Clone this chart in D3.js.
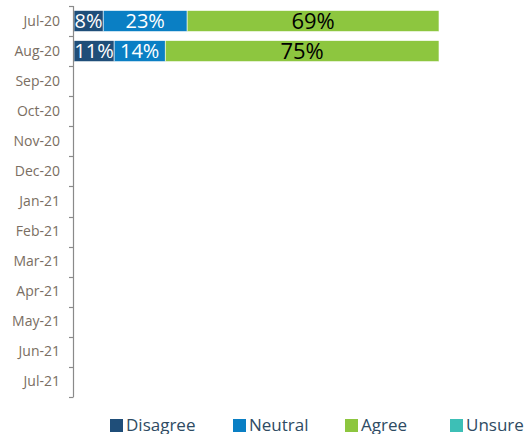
<!DOCTYPE html>
<html><head><meta charset="utf-8">
<script src="https://cdn.jsdelivr.net/npm/d3@7"></script>
<style>body{margin:0;background:#fff}svg{display:block}</style>
</head><body>
<script>
const categories = ["Jul-20","Aug-20","Sep-20","Oct-20","Nov-20","Dec-20","Jan-21","Feb-21","Mar-21","Apr-21","May-21","Jun-21","Jul-21"];
const seriesNames = ["Disagree","Neutral","Agree","Unsure"];
const disagree = [8, 11, null, null, null, null, null, null, null, null, null, null, null];
const neutral  = [23, 14, null, null, null, null, null, null, null, null, null, null, null];
const agree    = [69, 75, null, null, null, null, null, null, null, null, null, null, null];
const unsure   = [0, 0, null, null, null, null, null, null, null, null, null, null, null];
const colors = ["#1F4E79","#0A7FC4","#8DC63F","#3DBFB6"];

const W = 524, H = 434;
const svg = d3.select("body").append("svg").attr("width", W).attr("height", H);

const y = d3.scaleBand().domain(categories).range([6, 397]).paddingInner(0.3).paddingOuter(0.15);
const x = d3.scaleLinear().domain([0, 100]).range([74, 439]);

const rows = categories.map((c, i) => ({cat: c, vals: [disagree[i], neutral[i], agree[i], unsure[i]]}));

rows.forEach(r => {
  let acc = 0;
  r.vals.forEach((v, k) => {
    if (v == null || v === 0) return;
    const x0 = x(acc), x1 = x(acc + v);
    svg.append("rect").attr("x", x0).attr("y", y(r.cat)).attr("width", x1 - x0).attr("height", y.bandwidth())
      .attr("fill", colors[k]).attr("stroke", "#fff").attr("stroke-width", 0.6);
    svg.append("text").attr("x", (x0 + x1) / 2).attr("y", y(r.cat) + y.bandwidth() / 2)
      .attr("dy", "0.36em").attr("text-anchor", "middle")
      .attr("font-family", "Open Sans").attr("font-size", k === 2 ? 22 : 20)
      .attr("fill", k === 2 ? "#000" : "#fff").text(v + "%");
    acc += v;
  });
});

// axis
const yAxis = d3.axisLeft(y).tickSize(0).tickPadding(13);
const g = svg.append("g").attr("transform", "translate(73,0)").call(yAxis);
g.select(".domain").remove();
g.selectAll("text").attr("font-family", "Open Sans").attr("font-size", 14).attr("fill", "#7A6E62");
svg.append("line").attr("x1", 73.5).attr("x2", 73.5).attr("y1", 6).attr("y2", 397).attr("stroke", "#8a8a8a").attr("stroke-width", 1.2);
const bounds = categories.map(c => y(c) - y.step() * y.paddingInner() / 2);
bounds.push(397);
bounds[0] = 6;
svg.selectAll("line.tk").data(bounds).enter().append("line")
  .attr("x1", 69).attr("x2", 73.5).attr("y1", d => Math.round(d) + 0.5).attr("y2", d => Math.round(d) + 0.5)
  .attr("stroke", "#8a8a8a").attr("stroke-width", 1.2);

// legend
const legX = [110, 233, 345, 450];
seriesNames.forEach((n, i) => {
  svg.append("rect").attr("x", legX[i]).attr("y", 419).attr("width", 13).attr("height", 13).attr("fill", colors[i]);
  svg.append("text").attr("x", legX[i] + 16).attr("y", 431).attr("font-family", "Open Sans").attr("font-size", 17)
    .attr("fill", "#2E4B63").text(n);
});
</script>
</body></html>
